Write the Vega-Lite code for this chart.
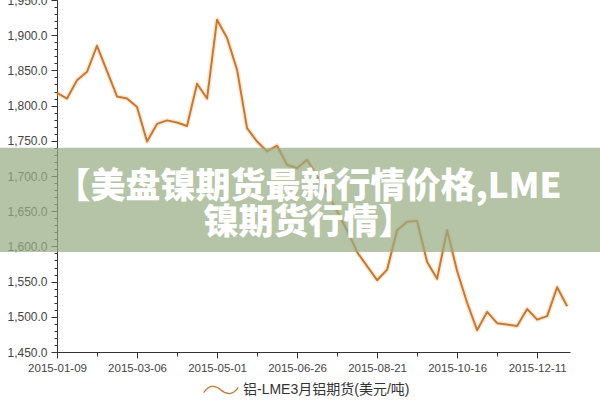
{
  "$schema": "https://vega.github.io/schema/vega-lite/v6.json",
  "autosize": "none",
  "width": 513,
  "height": 352,
  "padding": {"left": 57, "top": 0, "right": 30, "bottom": 48},
  "background": "white",
  "config": {"view": {"stroke": null}},
  "resolve": {"axis": {"y": "independent"}},
  "layer": [
    {
      "data": {"name": "prices", "values": [
        {"date": "2015-01-09", "price": 1818, "series": "铝-LME3月铝期货(美元/吨)"},
        {"date": "2015-01-16", "price": 1810, "series": "铝-LME3月铝期货(美元/吨)"},
        {"date": "2015-01-23", "price": 1836, "series": "铝-LME3月铝期货(美元/吨)"},
        {"date": "2015-01-30", "price": 1848, "series": "铝-LME3月铝期货(美元/吨)"},
        {"date": "2015-02-06", "price": 1885, "series": "铝-LME3月铝期货(美元/吨)"},
        {"date": "2015-02-13", "price": 1849, "series": "铝-LME3月铝期货(美元/吨)"},
        {"date": "2015-02-20", "price": 1813, "series": "铝-LME3月铝期货(美元/吨)"},
        {"date": "2015-02-27", "price": 1810, "series": "铝-LME3月铝期货(美元/吨)"},
        {"date": "2015-03-06", "price": 1798, "series": "铝-LME3月铝期货(美元/吨)"},
        {"date": "2015-03-13", "price": 1749, "series": "铝-LME3月铝期货(美元/吨)"},
        {"date": "2015-03-20", "price": 1774, "series": "铝-LME3月铝期货(美元/吨)"},
        {"date": "2015-03-27", "price": 1779, "series": "铝-LME3月铝期货(美元/吨)"},
        {"date": "2015-04-03", "price": 1776, "series": "铝-LME3月铝期货(美元/吨)"},
        {"date": "2015-04-10", "price": 1771, "series": "铝-LME3月铝期货(美元/吨)"},
        {"date": "2015-04-17", "price": 1831, "series": "铝-LME3月铝期货(美元/吨)"},
        {"date": "2015-04-24", "price": 1810, "series": "铝-LME3月铝期货(美元/吨)"},
        {"date": "2015-05-01", "price": 1922, "series": "铝-LME3月铝期货(美元/吨)"},
        {"date": "2015-05-08", "price": 1896, "series": "铝-LME3月铝期货(美元/吨)"},
        {"date": "2015-05-15", "price": 1851, "series": "铝-LME3月铝期货(美元/吨)"},
        {"date": "2015-05-22", "price": 1768, "series": "铝-LME3月铝期货(美元/吨)"},
        {"date": "2015-05-29", "price": 1749, "series": "铝-LME3月铝期货(美元/吨)"},
        {"date": "2015-06-05", "price": 1735, "series": "铝-LME3月铝期货(美元/吨)"},
        {"date": "2015-06-12", "price": 1743, "series": "铝-LME3月铝期货(美元/吨)"},
        {"date": "2015-06-19", "price": 1716, "series": "铝-LME3月铝期货(美元/吨)"},
        {"date": "2015-06-26", "price": 1711, "series": "铝-LME3月铝期货(美元/吨)"},
        {"date": "2015-07-03", "price": 1723, "series": "铝-LME3月铝期货(美元/吨)"},
        {"date": "2015-07-10", "price": 1700, "series": "铝-LME3月铝期货(美元/吨)"},
        {"date": "2015-07-17", "price": 1676, "series": "铝-LME3月铝期货(美元/吨)"},
        {"date": "2015-07-24", "price": 1650, "series": "铝-LME3月铝期货(美元/吨)"},
        {"date": "2015-07-31", "price": 1623, "series": "铝-LME3月铝期货(美元/吨)"},
        {"date": "2015-08-07", "price": 1592, "series": "铝-LME3月铝期货(美元/吨)"},
        {"date": "2015-08-14", "price": 1572, "series": "铝-LME3月铝期货(美元/吨)"},
        {"date": "2015-08-21", "price": 1552, "series": "铝-LME3月铝期货(美元/吨)"},
        {"date": "2015-08-28", "price": 1567, "series": "铝-LME3月铝期货(美元/吨)"},
        {"date": "2015-09-04", "price": 1623, "series": "铝-LME3月铝期货(美元/吨)"},
        {"date": "2015-09-11", "price": 1635, "series": "铝-LME3月铝期货(美元/吨)"},
        {"date": "2015-09-18", "price": 1636, "series": "铝-LME3月铝期货(美元/吨)"},
        {"date": "2015-09-25", "price": 1578, "series": "铝-LME3月铝期货(美元/吨)"},
        {"date": "2015-10-02", "price": 1554, "series": "铝-LME3月铝期货(美元/吨)"},
        {"date": "2015-10-09", "price": 1623, "series": "铝-LME3月铝期货(美元/吨)"},
        {"date": "2015-10-16", "price": 1565, "series": "铝-LME3月铝期货(美元/吨)"},
        {"date": "2015-10-23", "price": 1520, "series": "铝-LME3月铝期货(美元/吨)"},
        {"date": "2015-10-30", "price": 1481, "series": "铝-LME3月铝期货(美元/吨)"},
        {"date": "2015-11-06", "price": 1507, "series": "铝-LME3月铝期货(美元/吨)"},
        {"date": "2015-11-13", "price": 1491, "series": "铝-LME3月铝期货(美元/吨)"},
        {"date": "2015-11-20", "price": 1489, "series": "铝-LME3月铝期货(美元/吨)"},
        {"date": "2015-11-27", "price": 1487, "series": "铝-LME3月铝期货(美元/吨)"},
        {"date": "2015-12-04", "price": 1511, "series": "铝-LME3月铝期货(美元/吨)"},
        {"date": "2015-12-11", "price": 1496, "series": "铝-LME3月铝期货(美元/吨)"},
        {"date": "2015-12-18", "price": 1501, "series": "铝-LME3月铝期货(美元/吨)"},
        {"date": "2015-12-25", "price": 1542, "series": "铝-LME3月铝期货(美元/吨)"},
        {"date": "2016-01-01", "price": 1515, "series": "铝-LME3月铝期货(美元/吨)"}
      ]},
      "mark": {"type": "line", "stroke": "#f6b877", "strokeWidth": 5, "opacity": 0.3, "strokeJoin": "round"},
      "encoding": {
        "x": {"field": "date", "type": "temporal"},
        "y": {
          "field": "price", "type": "quantitative",
          "axis": {
            "orient": "left",
            "title": null,
            "values": [1450,1460,1470,1480,1490,1500,1510,1520,1530,1540,1550,1560,1570,1580,1590,1600,1610,1620,1630,1640,1650,1660,1670,1680,1690,1700,1710,1720,1730,1740,1750,1760,1770,1780,1790,1800,1810,1820,1830,1840,1850,1860,1870,1880,1890,1900,1910,1920,1930,1940,1950],
            "labels": false,
            "domain": false,
            "grid": false,
            "tickSize": 3,
            "tickColor": "#333333"
          }
        }
      }
    },
    {
      "data": {"name": "prices"},
      "mark": {"type": "line", "strokeWidth": 2, "strokeJoin": "round"},
      "encoding": {
        "x": {
          "field": "date", "type": "temporal", "title": null,
          "scale": {"type": "utc", "domain": [{"year": 2015, "month": 1, "date": 9, "utc": true}, {"year": 2016, "month": 1, "date": 3, "utc": true}]},
          "axis": {
            "values": [
              {"year": 2015, "month": 1, "date": 9, "utc": true},
              {"year": 2015, "month": 1, "date": 16, "utc": true},
              {"year": 2015, "month": 1, "date": 23, "utc": true},
              {"year": 2015, "month": 1, "date": 30, "utc": true},
              {"year": 2015, "month": 2, "date": 6, "utc": true},
              {"year": 2015, "month": 2, "date": 13, "utc": true},
              {"year": 2015, "month": 2, "date": 20, "utc": true},
              {"year": 2015, "month": 2, "date": 27, "utc": true},
              {"year": 2015, "month": 3, "date": 6, "utc": true},
              {"year": 2015, "month": 3, "date": 13, "utc": true},
              {"year": 2015, "month": 3, "date": 20, "utc": true},
              {"year": 2015, "month": 3, "date": 27, "utc": true},
              {"year": 2015, "month": 4, "date": 3, "utc": true},
              {"year": 2015, "month": 4, "date": 10, "utc": true},
              {"year": 2015, "month": 4, "date": 17, "utc": true},
              {"year": 2015, "month": 4, "date": 24, "utc": true},
              {"year": 2015, "month": 5, "date": 1, "utc": true},
              {"year": 2015, "month": 5, "date": 8, "utc": true},
              {"year": 2015, "month": 5, "date": 15, "utc": true},
              {"year": 2015, "month": 5, "date": 22, "utc": true},
              {"year": 2015, "month": 5, "date": 29, "utc": true},
              {"year": 2015, "month": 6, "date": 5, "utc": true},
              {"year": 2015, "month": 6, "date": 12, "utc": true},
              {"year": 2015, "month": 6, "date": 19, "utc": true},
              {"year": 2015, "month": 6, "date": 26, "utc": true},
              {"year": 2015, "month": 7, "date": 3, "utc": true},
              {"year": 2015, "month": 7, "date": 10, "utc": true},
              {"year": 2015, "month": 7, "date": 17, "utc": true},
              {"year": 2015, "month": 7, "date": 24, "utc": true},
              {"year": 2015, "month": 7, "date": 31, "utc": true},
              {"year": 2015, "month": 8, "date": 7, "utc": true},
              {"year": 2015, "month": 8, "date": 14, "utc": true},
              {"year": 2015, "month": 8, "date": 21, "utc": true},
              {"year": 2015, "month": 8, "date": 28, "utc": true},
              {"year": 2015, "month": 9, "date": 4, "utc": true},
              {"year": 2015, "month": 9, "date": 11, "utc": true},
              {"year": 2015, "month": 9, "date": 18, "utc": true},
              {"year": 2015, "month": 9, "date": 25, "utc": true},
              {"year": 2015, "month": 10, "date": 2, "utc": true},
              {"year": 2015, "month": 10, "date": 9, "utc": true},
              {"year": 2015, "month": 10, "date": 16, "utc": true},
              {"year": 2015, "month": 10, "date": 23, "utc": true},
              {"year": 2015, "month": 10, "date": 30, "utc": true},
              {"year": 2015, "month": 11, "date": 6, "utc": true},
              {"year": 2015, "month": 11, "date": 13, "utc": true},
              {"year": 2015, "month": 11, "date": 20, "utc": true},
              {"year": 2015, "month": 11, "date": 27, "utc": true},
              {"year": 2015, "month": 12, "date": 4, "utc": true},
              {"year": 2015, "month": 12, "date": 11, "utc": true},
              {"year": 2015, "month": 12, "date": 18, "utc": true},
              {"year": 2015, "month": 12, "date": 25, "utc": true},
              {"year": 2016, "month": 1, "date": 1, "utc": true}
            ],
            "labelExpr": "round((datum.value - 1420761600000) / 604800000) % 8 === 0 ? utcFormat(datum.value, '%Y-%m-%d') : ''",
            "tickSize": {"condition": {"test": "round((datum.value - 1420761600000) / 604800000) % 8 === 0", "value": 6}, "value": 4},
            "tickColor": "#333333",
            "domainColor": "#333333",
            "grid": false,
            "labelFont": "Liberation Sans",
            "labelFontSize": 11.5,
            "labelColor": "#444444",
            "labelPadding": 4,
            "labelOverlap": false,
            "labelFlush": false
          }
        },
        "y": {
          "field": "price", "type": "quantitative", "title": null,
          "scale": {"domain": [1450, 1950], "nice": false, "zero": false},
          "axis": {
            "orient": "left",
            "values": [1450, 1500, 1550, 1600, 1650, 1700, 1750, 1800, 1850, 1900, 1950],
            "format": ",.1f",
            "tickSize": 6,
            "tickColor": "#333333",
            "domainColor": "#333333",
            "grid": false,
            "labelFont": "Liberation Sans",
            "labelFontSize": 12,
            "labelColor": "#444444",
            "labelPadding": 4,
            "labelOverlap": false,
            "labelFlush": false
          }
        },
        "color": {
          "field": "series", "type": "nominal",
          "scale": {"range": ["#c27a35"]},
          "legend": {
            "title": null,
            "orient": "none",
            "legendX": 146,
            "legendY": 372,
            "padding": 0,
            "direction": "horizontal",
            "symbolType": "M-1,0.15 C-0.7,-0.3 -0.35,-0.3 0,0 C0.35,0.3 0.7,0.3 1,-0.15",
            "symbolSize": 1200,
            "symbolStrokeWidth": 1.3,
            "symbolStrokeColor": "#cfae8c",
            "symbolFillColor": "transparent",
            "labelFont": "Liberation Sans, Noto Sans CJK SC",
            "labelFontSize": 14,
            "labelColor": "#333333",
            "labelLimit": 400
          }
        }
      }
    },
    {
      "data": {"values": [{"label": "banner"}]},
      "mark": {"type": "rect", "fill": "#98ad84", "opacity": 0.72, "clip": false},
      "encoding": {
        "x": {"datum": {"year": 2014, "month": 11, "date": 29, "utc": true}, "type": "temporal"},
        "x2": {"datum": {"year": 2016, "month": 1, "date": 26, "utc": true}},
        "y": {"datum": 1740, "type": "quantitative", "axis": null},
        "y2": {"datum": 1592}
      }
    },
    {
      "data": {"values": [{"label": "banner"}]},
      "mark": {"type": "text", "fill": "white", "font": "Noto Sans CJK SC", "fontWeight": 900, "fontSize": 35, "lineHeight": 36, "align": "center", "baseline": "middle", "text": ["【美盘镍期货最新行情价格,LME", "镍期货行情】"]},
      "encoding": {
        "x": {"datum": {"year": 2015, "month": 7, "date": 4, "utc": true}, "type": "temporal"},
        "y": {"datum": 1685, "type": "quantitative", "axis": null}
      }
    }
  ]
}
